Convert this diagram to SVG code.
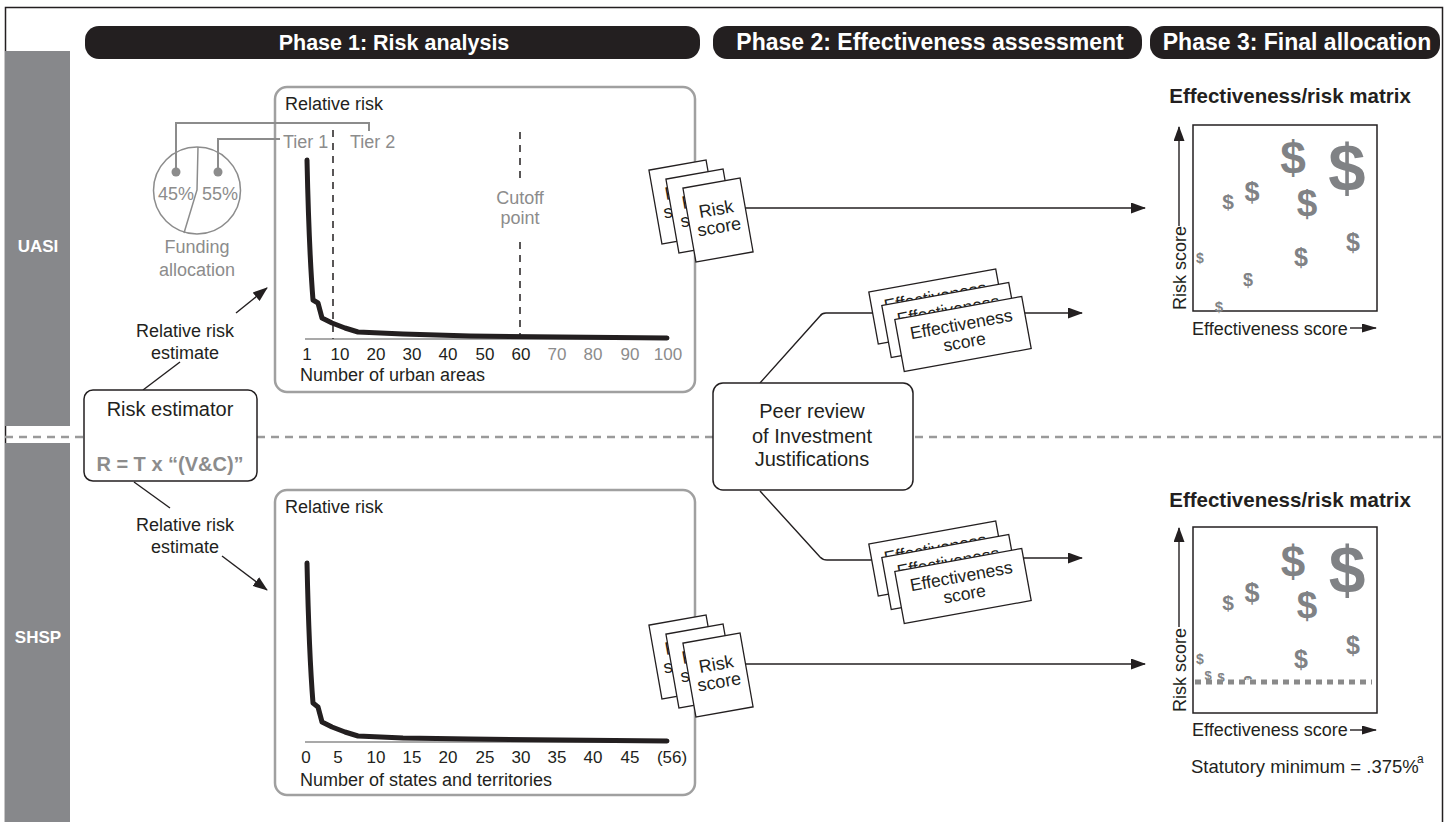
<svg xmlns="http://www.w3.org/2000/svg" xmlns:xlink="http://www.w3.org/1999/xlink" width="1447" height="822" viewBox="0 0 1447 822">
<defs>
<style>
text{font-family:"Liberation Sans",Arial,sans-serif;}
.t18{font-size:18px;fill:#231f20}
.g18{font-size:18px;fill:#8c8c8c}
.hdr{font-size:23px;font-weight:bold;fill:#fff;text-anchor:middle}
.side{font-size:17px;font-weight:bold;fill:#fff;text-anchor:middle}
.tick{font-size:17px;fill:#231f20;text-anchor:middle}
.tickg{font-size:17px;fill:#8c8c8c;text-anchor:middle}
.chartbox{fill:#fff;stroke:#a0a0a0;stroke-width:2.5}
.curve{fill:none;stroke:#231f20;stroke-width:5;stroke-linejoin:round;stroke-linecap:round}
.vdash{stroke:#231f20;stroke-width:1.5;stroke-dasharray:7 6}
.axis{stroke:#555;stroke-width:1.2}
.conn{fill:none;stroke:#231f20;stroke-width:1.4}
.gline{fill:none;stroke:#8c8c8c;stroke-width:2}
.card{fill:#fff;stroke:#231f20;stroke-width:1.3}
.cardt{font-size:17.5px;fill:#231f20;text-anchor:middle}
.cardr{font-size:18px;fill:#231f20;text-anchor:middle}
.box{fill:#fff;stroke:#231f20;stroke-width:1.5}
.dol{font-weight:bold;fill:#808285;text-anchor:middle}
.mtitle{font-size:20.5px;font-weight:bold;fill:#231f20;text-anchor:middle}
.pill{fill:#231f20}
.sidebar{fill:#87888b}
</style>
<marker id="ah" markerUnits="userSpaceOnUse" markerWidth="15" markerHeight="11" refX="14" refY="5.5" orient="auto"><path d="M0,0 L15,5.5 L0,11 z" fill="#231f20"/></marker>
<marker id="ahs" markerUnits="userSpaceOnUse" markerWidth="15" markerHeight="9" refX="14" refY="4.5" orient="auto"><path d="M0,0 L15,4.5 L0,9 z" fill="#231f20"/></marker>
<clipPath id="clipabove"><rect x="1230" y="600" width="40" height="80"/></clipPath>
<g id="riskcard"><rect x="-29" y="-37.5" width="58" height="75" class="card"/><text class="cardr" y="-5">Risk</text><text class="cardr" y="13">score</text></g>
<g id="effcard"><rect x="-64.5" y="-26.5" width="129" height="53" class="card"/><text class="cardt" y="-4">Effectiveness</text><text class="cardt" y="14">score</text></g>
</defs>

<rect width="1447" height="822" fill="#fff"/>
<rect x="5.5" y="7.5" width="1437" height="830" fill="none" stroke="#231f20" stroke-width="1.5"/>

<g id="sidebar">
<rect class="sidebar" x="5" y="51" width="65" height="375"/>
<rect class="sidebar" x="5" y="443" width="65" height="390"/>
<text class="side" x="38" y="252">UASI</text>
<text class="side" x="38" y="643">SHSP</text>
</g>

<g id="headers">
<rect class="pill" x="85" y="26" width="615" height="33" rx="14"/>
<text class="hdr" x="394" y="50" style="font-size:21.5px">Phase 1: Risk analysis</text>
<rect class="pill" x="713" y="26" width="429" height="33" rx="14"/>
<text class="hdr" x="930" y="50">Phase 2: Effectiveness assessment</text>
<rect class="pill" x="1150" y="26" width="290" height="33" rx="14"/>
<text class="hdr" x="1297" y="50">Phase 3: Final allocation</text>
</g>

<line x1="5" y1="437" x2="1442" y2="437" stroke="#9a9a9a" stroke-width="2.5" stroke-dasharray="8 6"/>

<g id="uasi-chart">
<rect class="chartbox" x="275" y="87" width="420" height="305" rx="12"/>
<text class="t18" x="285" y="110">Relative risk</text>
<line class="vdash" x1="333" y1="130" x2="333" y2="339"/>
<line class="vdash" x1="520" y1="132" x2="520" y2="180"/>
<line class="vdash" x1="520" y1="242" x2="520" y2="339"/>
<text class="g18" x="520" y="204" text-anchor="middle">Cutoff</text>
<text class="g18" x="520" y="224" text-anchor="middle">point</text>
<text class="g18" x="283" y="148">Tier 1</text>
<text class="g18" x="350" y="148">Tier 2</text>
<line class="axis" x1="305" y1="339" x2="668" y2="339"/>
<path class="curve" d="M307,160 Q309,250 313,300 L318,303 L322,318 L332,323 L345,328 L358,332 L403,334 L470,336 L667,338"/>
<text class="tick" x="307" y="360">1</text>
<text class="tick" x="340" y="360">10</text>
<text class="tick" x="376" y="360">20</text>
<text class="tick" x="412" y="360">30</text>
<text class="tick" x="448" y="360">40</text>
<text class="tick" x="485" y="360">50</text>
<text class="tick" x="521" y="360">60</text>
<text class="tickg" x="557" y="360">70</text>
<text class="tickg" x="593" y="360">80</text>
<text class="tickg" x="630" y="360">90</text>
<text class="tickg" x="668" y="360">100</text>
<text class="t18" x="300" y="381">Number of urban areas</text>
</g>

<g id="funding-pie">
<circle cx="197" cy="190.5" r="43.5" fill="none" stroke="#8c8c8c" stroke-width="1.5"/>
<path d="M198,147 L197,190 L184,233" fill="none" stroke="#8c8c8c" stroke-width="1.5"/>
<path class="gline" d="M176,170 L176,123 L369,123 L369,131"/>
<path class="gline" d="M218,170 L218,139 L280,139"/>
<circle cx="176" cy="172" r="4.5" fill="#8c8c8c"/>
<circle cx="218" cy="172" r="4.5" fill="#8c8c8c"/>
<text class="g18" x="176" y="200" text-anchor="middle">45%</text>
<text class="g18" x="220" y="200" text-anchor="middle">55%</text>
<text class="g18" x="197" y="253" text-anchor="middle">Funding</text>
<text class="g18" x="197" y="276" text-anchor="middle">allocation</text>
</g>

<g id="shsp-chart">
<rect class="chartbox" x="275" y="490" width="420" height="305" rx="12"/>
<text class="t18" x="285" y="513">Relative risk</text>
<line class="axis" x1="305" y1="742" x2="668" y2="742"/>
<path class="curve" d="M307,563 Q309,653 313,703 L318,707 L322,722 L332,727 L345,732 L358,736 L403,738 L470,739 L667,741"/>
<text class="tick" x="306" y="763">0</text>
<text class="tick" x="338" y="763">5</text>
<text class="tick" x="376" y="763">10</text>
<text class="tick" x="412" y="763">15</text>
<text class="tick" x="448" y="763">20</text>
<text class="tick" x="485" y="763">25</text>
<text class="tick" x="521" y="763">30</text>
<text class="tick" x="557" y="763">35</text>
<text class="tick" x="593" y="763">40</text>
<text class="tick" x="630" y="763">45</text>
<text class="tick" x="672" y="763">(56)</text>
<text class="t18" x="300" y="786">Number of states and territories</text>
</g>

<g id="connectors">
<line class="conn" x1="143" y1="390" x2="180" y2="362"/>
<line class="conn" x1="134" y1="482" x2="170" y2="508"/>
<line class="conn" x1="236" y1="313" x2="267" y2="288" marker-end="url(#ah)"/>
<line class="conn" x1="222" y1="556" x2="267" y2="590" marker-end="url(#ah)"/>
<line class="conn" x1="740" y1="208" x2="1145" y2="208" marker-end="url(#ah)"/>
<line class="conn" x1="740" y1="664" x2="1145" y2="664" marker-end="url(#ah)"/>
<path class="conn" d="M760,383 L820,316 Q822,313 826,313 L880,313"/>
<path class="conn" d="M760,491 L820,557 Q823,560 827,560 L880,560"/>
<line class="conn" x1="1020" y1="313" x2="1082" y2="313" marker-end="url(#ah)"/>
<line class="conn" x1="1020" y1="558" x2="1082" y2="558" marker-end="url(#ah)"/>
</g>

<g id="risk-estimate-labels">
<text class="t18" x="185" y="337" text-anchor="middle">Relative risk</text>
<text class="t18" x="185" y="359" text-anchor="middle">estimate</text>
<text class="t18" x="185" y="531" text-anchor="middle">Relative risk</text>
<text class="t18" x="185" y="553" text-anchor="middle">estimate</text>
</g>

<g id="risk-estimator">
<rect class="box" x="84" y="390" width="173" height="91" rx="9"/>
<text x="170" y="416" text-anchor="middle" style="font-size:20px;fill:#231f20">Risk estimator</text>
<text x="170" y="471" text-anchor="middle" style="font-size:20px;font-weight:bold;fill:#8c8c8c">R = T x “(V&amp;C)”</text>
</g>

<g id="peer-review">
<rect class="box" x="713" y="383" width="200" height="107" rx="10"/>
<text x="812" y="418" text-anchor="middle" style="font-size:20px;fill:#231f20">Peer review</text>
<text x="812" y="443" text-anchor="middle" style="font-size:20px;fill:#231f20">of Investment</text>
<text x="812" y="466" text-anchor="middle" style="font-size:20px;fill:#231f20">Justifications</text>
</g>

<g id="uasi-risk-cards">
<use xlink:href="#riskcard" transform="translate(684,202) rotate(-10)"/>
<use xlink:href="#riskcard" transform="translate(701,211) rotate(-10)"/>
<use xlink:href="#riskcard" transform="translate(718,220) rotate(-10)"/>
</g>
<g id="shsp-risk-cards">
<use xlink:href="#riskcard" transform="translate(684,657) rotate(-10)"/>
<use xlink:href="#riskcard" transform="translate(701,666) rotate(-10)"/>
<use xlink:href="#riskcard" transform="translate(718,675) rotate(-10)"/>
</g>
<g id="uasi-eff-cards">
<use xlink:href="#effcard" transform="translate(937,306.5) rotate(-10.3)"/>
<use xlink:href="#effcard" transform="translate(950,320) rotate(-10.3)"/>
<use xlink:href="#effcard" transform="translate(963,334) rotate(-10.3)"/>
</g>
<g id="shsp-eff-cards">
<use xlink:href="#effcard" transform="translate(937,558.5) rotate(-10.3)"/>
<use xlink:href="#effcard" transform="translate(950,572) rotate(-10.3)"/>
<use xlink:href="#effcard" transform="translate(963,586) rotate(-10.3)"/>
</g>

<g id="uasi-matrix">
<text class="mtitle" x="1290" y="103">Effectiveness/risk matrix</text>
<rect x="1193" y="125" width="184" height="186" fill="none" stroke="#231f20" stroke-width="1.5"/>
<line class="conn" x1="1179" y1="226" x2="1179" y2="127" marker-end="url(#ah)"/>
<text class="t18" transform="translate(1185.5,310) rotate(-90)">Risk score</text>
<text class="t18" x="1192" y="335">Effectiveness score</text>
<line class="conn" x1="1350" y1="328" x2="1376" y2="328" marker-end="url(#ahs)"/>
<text class="dol" x="1347" y="191" style="font-size:67px">$</text>
<text class="dol" x="1293" y="174" style="font-size:46px">$</text>
<text class="dol" x="1307" y="216" style="font-size:37px">$</text>
<text class="dol" x="1252" y="201" style="font-size:27px">$</text>
<text class="dol" x="1228" y="209" style="font-size:21px">$</text>
<text class="dol" x="1353" y="251" style="font-size:25px">$</text>
<text class="dol" x="1301" y="266" style="font-size:25px">$</text>
<text class="dol" x="1248" y="286" style="font-size:18px">$</text>
<text class="dol" x="1200" y="263" style="font-size:14px">$</text>
<text class="dol" x="1219" y="312" style="font-size:15px">$</text>
</g>

<g id="shsp-matrix">
<text class="mtitle" x="1290" y="507">Effectiveness/risk matrix</text>
<rect x="1193" y="527" width="184" height="186" fill="none" stroke="#231f20" stroke-width="1.5"/>
<line class="conn" x1="1179" y1="627" x2="1179" y2="528" marker-end="url(#ah)"/>
<text class="t18" transform="translate(1185.5,712) rotate(-90)">Risk score</text>
<text class="t18" x="1192" y="736">Effectiveness score</text>
<line class="conn" x1="1350" y1="730" x2="1376" y2="730" marker-end="url(#ahs)"/>
<text class="dol" x="1347" y="593" style="font-size:66px">$</text>
<text class="dol" x="1293" y="577" style="font-size:44px">$</text>
<text class="dol" x="1307" y="618" style="font-size:37px">$</text>
<text class="dol" x="1252" y="602" style="font-size:27px">$</text>
<text class="dol" x="1228" y="610" style="font-size:21px">$</text>
<text class="dol" x="1353" y="654" style="font-size:25px">$</text>
<text class="dol" x="1301" y="668" style="font-size:25px">$</text>
<text class="dol" x="1200" y="664" style="font-size:14px">$</text>
<text class="dol" x="1208" y="680" style="font-size:13px">$</text>
<text class="dol" x="1221" y="682" style="font-size:13px">$</text>
<text class="dol" x="1248" y="688" style="font-size:16px" clip-path="url(#clipabove)">$</text>
<line x1="1195" y1="682" x2="1372" y2="682" stroke="#8a8a8a" stroke-width="5" stroke-dasharray="6 5"/>
<text class="t18" x="1191" y="773" style="font-size:18.5px">Statutory minimum = .375%</text>
<text x="1417" y="763" style="font-size:12px;fill:#231f20">a</text>
</g>
</svg>
